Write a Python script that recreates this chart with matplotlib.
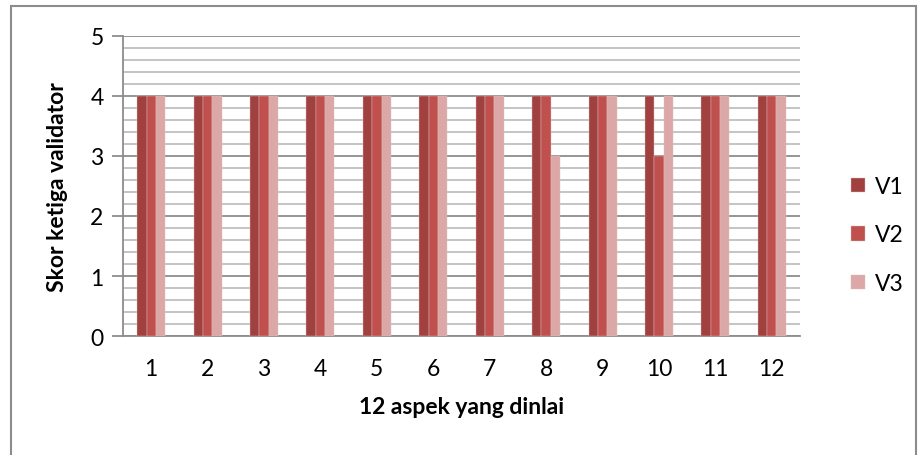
import matplotlib
matplotlib.use("Agg")
import matplotlib.pyplot as plt
import numpy as np
from matplotlib.patches import Rectangle

plt.rcParams['font.family'] = ['Lato', 'DejaVu Sans']

categories = ['1', '2', '3', '4', '5', '6', '7', '8', '9', '10', '11', '12']
v1 = [4, 4, 4, 4, 4, 4, 4, 4, 4, 4, 4, 4]
v2 = [4, 4, 4, 4, 4, 4, 4, 4, 4, 3, 4, 4]
v3 = [4, 4, 4, 4, 4, 4, 4, 3, 4, 4, 4, 4]
series = {'V1': v1, 'V2': v2, 'V3': v3}
colors = {'V1': '#A0403F', 'V2': '#C0504D', 'V3': '#DBA8A7'}

W, H = 919, 456
fig = plt.figure(figsize=(W / 100, H / 100), dpi=100)
ax = fig.add_axes([123 / W, 1 - 337 / H, (800 - 123) / W, 300 / H])

x = np.arange(len(categories))
bw = 0.165
for i, (name, vals) in enumerate(series.items()):
    ax.bar(x + (i - 1) * bw, vals, width=bw, color=colors[name],
           edgecolor='#E0BEBE', linewidth=0.3, label=name, zorder=3)

ax.set_xlim(-0.5, len(categories) - 0.5)
ax.set_ylim(0, 5)
ax.set_yticks(range(6))
ax.set_yticks(np.arange(0, 5.01, 0.2), minor=True)
ax.set_xticks(x)
ax.set_xticklabels(categories)
ax.yaxis.grid(True, which='minor', color='#BFBFBF', linewidth=1.3, zorder=0)
ax.yaxis.grid(True, which='major', color='#8C8C8C', linewidth=1.3, zorder=0)
ax.tick_params(axis='x', length=0, labelsize=16.5, pad=16)
ax.tick_params(axis='y', which='major', length=8, width=1.3, color='#8C8C8C', labelsize=16.5, pad=6)
ax.tick_params(axis='y', which='minor', length=0)
for s in ['top', 'right']:
    ax.spines[s].set_visible(False)
ax.spines['left'].set_color('#8C8C8C')
ax.spines['left'].set_linewidth(1.3)
ax.spines['bottom'].set_color('#8C8C8C')
ax.spines['bottom'].set_linewidth(1.3)

ax.set_ylabel('Skor ketiga validator', fontsize=16.5, fontweight='bold', labelpad=16)
ax.set_xlabel('12 aspek yang dinlai', fontsize=16.5, fontweight='bold', labelpad=12)

leg = ax.legend(loc='center left', bbox_to_anchor=(1.045, (337 - 236) / 300), frameon=False,
                fontsize=16.5, handlelength=0.6, handleheight=0.6, labelspacing=1.2,
                handletextpad=0.45)

fig.patches.append(Rectangle((11 / W, -0.01), (916 - 11) / W, 1 - 7 / H + 0.01,
                             transform=fig.transFigure, fill=False,
                             edgecolor='#8C8C8C', linewidth=1.5))

fig.savefig('out.png', dpi=100)
